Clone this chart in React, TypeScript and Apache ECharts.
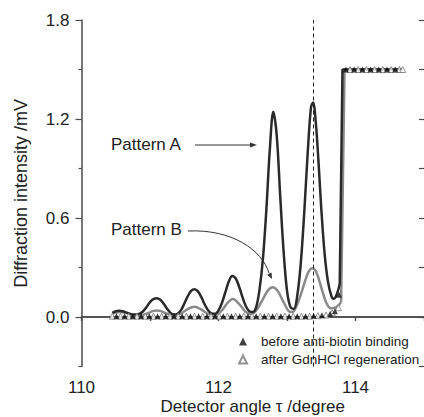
import React, { useEffect, useRef } from 'react';
import * as echarts from 'echarts';

// Pattern A (before anti-biotin binding), smooth oscillating part
const angleA = [
  110.45, 110.50, 110.55, 110.60, 110.65, 110.70, 110.75, 110.80, 110.85, 110.90,
  110.95, 111.00, 111.05, 111.10, 111.15, 111.20, 111.25, 111.30, 111.35, 111.40,
  111.45, 111.50, 111.55, 111.60, 111.65, 111.70, 111.75, 111.80, 111.85, 111.90,
  111.95, 112.00, 112.05, 112.10, 112.15, 112.20, 112.25, 112.30, 112.35, 112.40,
  112.45, 112.50, 112.55, 112.60, 112.65, 112.70, 112.75, 112.80, 112.85, 112.90,
  112.95, 113.00, 113.05, 113.10, 113.15, 113.20, 113.25, 113.30, 113.35, 113.38,
  113.42, 113.46, 113.50, 113.55, 113.60, 113.65, 113.68, 113.72, 113.77,
];
const intensityA = [
  0.025, 0.035, 0.038, 0.035, 0.028, 0.020, 0.015, 0.015, 0.020, 0.035,
  0.060, 0.090, 0.108, 0.113, 0.105, 0.080, 0.050, 0.025, 0.015, 0.020,
  0.040, 0.080, 0.125, 0.158, 0.168, 0.155, 0.120, 0.075, 0.040, 0.022,
  0.020, 0.040, 0.085, 0.150, 0.215, 0.248, 0.235, 0.185, 0.120, 0.065,
  0.035, 0.030, 0.060, 0.170, 0.360, 0.660, 1.020, 1.244, 1.100, 0.740,
  0.400, 0.160, 0.060, 0.050, 0.130, 0.320, 0.620, 0.980, 1.270, 1.300,
  1.180, 0.940, 0.660, 0.380, 0.210, 0.125, 0.110, 0.130, 0.200,
];
// Pattern A step to saturation
const angleAStep = [113.77, 113.81, 114.68];
const intensityAStep = [0.200, 1.500, 1.500];

// Pattern B (after GdnHCl regeneration), smooth oscillating part
const angleB = [
  110.45, 110.55, 110.65, 110.75, 110.85, 110.95, 111.05, 111.10, 111.15, 111.25,
  111.35, 111.45, 111.55, 111.65, 111.75, 111.85, 111.95, 112.05, 112.12, 112.21,
  112.30, 112.40, 112.47, 112.55, 112.65, 112.72, 112.79, 112.86, 112.95, 113.05,
  113.10, 113.18, 113.25, 113.31, 113.37, 113.43, 113.50, 113.57, 113.64, 113.72,
  113.79,
];
const intensityB = [
  0.020, 0.030, 0.025, 0.012, 0.010, 0.020, 0.037, 0.040, 0.037, 0.020,
  0.010, 0.020, 0.048, 0.062, 0.045, 0.018, 0.012, 0.040, 0.080, 0.109,
  0.080, 0.030, 0.018, 0.040, 0.110, 0.160, 0.180, 0.160, 0.090, 0.030,
  0.035, 0.110, 0.200, 0.270, 0.295, 0.270, 0.180, 0.090, 0.053, 0.060,
  0.090,
];
const angleBStep = [113.79, 113.84, 114.68];
const intensityBStep = [0.090, 1.500, 1.500];

// Measured points (triangles)
const angleBefore = [
  110.51, 110.63, 110.75, 110.87, 110.99, 111.11, 111.23, 111.35, 111.47, 111.59,
  111.71, 111.83, 111.95, 112.07, 112.19, 112.31, 112.43, 112.55, 112.67, 112.79,
  112.91, 113.03, 113.15, 113.27, 113.39, 113.51, 113.63, 113.70, 113.76,
  113.86, 113.98, 114.10, 114.22, 114.34, 114.46, 114.58,
];
const valueBefore = [
  0.005, 0.005, 0.005, 0.005, 0.005, 0.005, 0.005, 0.005, 0.005, 0.005,
  0.005, 0.005, 0.005, 0.005, 0.005, 0.005, 0.005, 0.005, 0.005, 0.005,
  0.005, 0.005, 0.005, 0.005, 0.008, 0.010, 0.020, 0.035, 0.135,
  1.500, 1.500, 1.500, 1.500, 1.500, 1.500, 1.500,
];
const angleAfter = [
  110.45, 110.57, 110.69, 110.81, 110.93, 111.05, 111.17, 111.29, 111.41, 111.53,
  111.65, 111.77, 111.89, 112.01, 112.13, 112.25, 112.37, 112.49, 112.61, 112.73,
  112.85, 112.97, 113.09, 113.21, 113.33, 113.45, 113.57, 113.66, 113.75,
  113.92, 114.04, 114.16, 114.28, 114.40, 114.52, 114.64, 114.69,
];
const valueAfter = [
  0.005, 0.005, 0.005, 0.005, 0.005, 0.005, 0.005, 0.005, 0.005, 0.005,
  0.005, 0.005, 0.005, 0.005, 0.005, 0.005, 0.005, 0.005, 0.005, 0.005,
  0.005, 0.005, 0.005, 0.005, 0.005, 0.008, 0.012, 0.025, 0.056,
  1.500, 1.500, 1.500, 1.500, 1.500, 1.500, 1.500, 1.500,
];

const markerAngle = 113.39;
const xLabelTicks = [110, 112, 114];
const yLabelTicks = [0, 0.6, 1.2, 1.8];
const yMinorTicks = [-0.3, 0.3, 0.9, 1.5];

const legendBefore = 'before anti-biotin binding';
const legendAfter = 'after GdnHCl regeneration';

const zip = (xs: number[], ys: number[]) => xs.map((x, i) => [x, ys[i]]);

const FONT = '"Liberation Sans", Arial, Helvetica, sans-serif';
const AXIS_COLOR = '#4a4a4a';
const TEXT_COLOR = '#222';
const DARK = '#2a2a2a';
const GRAY = '#8a8a8a';

export default function App() {
  const ref = useRef<HTMLDivElement>(null);
  useEffect(() => {
    const chart = echarts.init(ref.current!, null, { renderer: 'svg' });
    const xCommon = {
      type: 'value',
      min: 110,
      max: 115,
      interval: 1,
      splitLine: { show: false },
    };
    const yCommon = {
      type: 'value',
      min: -0.3,
      max: 1.8,
      interval: 0.3,
      splitLine: { show: false },
    };
    chart.setOption({
      animation: false,
      backgroundColor: '#ffffff',
      textStyle: { fontFamily: FONT },
      grid: {
        left: 81.5,
        right: 0,
        top: 20,
        bottom: 50.5,
        containLabel: false,
        outerBoundsMode: 'none',
      },
      xAxis: [
        {
          ...xCommon,
          position: 'bottom',
          name: 'Detector angle τ /degree',
          nameLocation: 'middle',
          nameGap: 31,
          nameMoveOverlap: false,
          nameTextStyle: { fontSize: 17, color: TEXT_COLOR, fontFamily: FONT },
          axisLine: { show: true, lineStyle: { color: AXIS_COLOR, width: 1.5 } },
          axisTick: { show: true, inside: false, length: 4, lineStyle: { color: AXIS_COLOR, width: 1.2 } },
          axisLabel: {
            show: true,
            customValues: xLabelTicks,
            margin: 12,
            fontSize: 17,
            lineHeight: 17,
            color: TEXT_COLOR,
            fontFamily: FONT,
          },
        },
        {
          ...xCommon,
          position: 'top',
          axisLine: { show: true, lineStyle: { color: AXIS_COLOR, width: 1.5 } },
          axisTick: { show: true, inside: true, length: 4, lineStyle: { color: AXIS_COLOR, width: 1.2 } },
          axisLabel: { show: false },
        },
      ],
      yAxis: [
        {
          ...yCommon,
          position: 'left',
          name: 'Diffraction intensity /mV',
          nameLocation: 'middle',
          nameGap: 52,
          nameMoveOverlap: false,
          nameTextStyle: { fontSize: 18, color: TEXT_COLOR, fontFamily: FONT },
          axisLine: { show: true, lineStyle: { color: AXIS_COLOR, width: 1.5 } },
          axisTick: {
            show: true,
            inside: false,
            length: 6,
            customValues: yLabelTicks,
            lineStyle: { color: AXIS_COLOR, width: 1.2 },
          },
          axisLabel: {
            show: true,
            customValues: yLabelTicks,
            formatter: (v: number) => v.toFixed(1),
            margin: 12,
            fontSize: 17,
            color: TEXT_COLOR,
            fontFamily: FONT,
          },
        },
        {
          ...yCommon,
          position: 'left',
          axisLine: { show: false },
          axisTick: {
            show: true,
            inside: false,
            length: 3,
            customValues: yMinorTicks,
            lineStyle: { color: AXIS_COLOR, width: 1.2 },
          },
          axisLabel: { show: false },
        },
        {
          ...yCommon,
          position: 'right',
          axisLine: { show: false },
          axisTick: { show: true, inside: true, length: 5, lineStyle: { color: AXIS_COLOR, width: 1.2 } },
          axisLabel: { show: false },
        },
      ],
      legend: {
        show: true,
        orient: 'vertical',
        left: 233,
        top: 329,
        itemWidth: 8,
        itemHeight: 8,
        itemGap: 3,
        icon: 'triangle',
        textStyle: {
          fontSize: 13.5,
          lineHeight: 15,
          color: TEXT_COLOR,
          fontFamily: FONT,
          padding: [0, 0, 0, 9],
        },
        data: [legendBefore, legendAfter],
      },
      series: [
        {
          type: 'line',
          name: 'Pattern B',
          data: zip(angleB, intensityB),
          smooth: 0.35,
          showSymbol: false,
          symbol: 'none',
          lineStyle: { color: GRAY, width: 2.5 },
          z: 2,
        },
        {
          type: 'line',
          name: 'Pattern B step',
          data: zip(angleBStep, intensityBStep),
          smooth: false,
          symbol: 'none',
          lineStyle: { color: GRAY, width: 2.5 },
          z: 2,
        },
        {
          type: 'line',
          name: 'Pattern A',
          data: zip(angleA, intensityA),
          smooth: 0.35,
          showSymbol: false,
          symbol: 'none',
          lineStyle: { color: DARK, width: 2.5 },
          z: 3,
          markLine: {
            silent: true,
            symbol: ['none', 'none'],
            label: { show: false },
            lineStyle: { color: '#222', width: 1, type: [4, 3] },
            data: [{ xAxis: markerAngle }],
          },
        },
        {
          type: 'line',
          name: 'Pattern A step',
          data: zip(angleAStep, intensityAStep),
          smooth: false,
          symbol: 'none',
          lineStyle: { color: DARK, width: 2.5 },
          z: 3,
        },
        {
          type: 'scatter',
          name: legendAfter,
          data: zip(angleAfter, valueAfter),
          symbol: 'triangle',
          symbolSize: 6,
          itemStyle: { color: '#ffffff', borderColor: '#777777', borderWidth: 1 },
          z: 4,
        },
        {
          type: 'scatter',
          name: legendBefore,
          data: zip(angleBefore, valueBefore),
          symbol: 'triangle',
          symbolSize: 6,
          itemStyle: { color: '#111111' },
          z: 5,
        },
      ],
      graphic: [
        {
          type: 'text',
          left: 111,
          top: 136,
          style: { text: 'Pattern A', fontSize: 17, fill: TEXT_COLOR, fontFamily: FONT },
        },
        {
          type: 'line',
          shape: { x1: 195, y1: 145, x2: 251, y2: 145 },
          style: { stroke: '#333', lineWidth: 1 },
        },
        {
          type: 'polygon',
          shape: { points: [[257, 145], [250, 142.5], [250, 147.5]] },
          style: { fill: '#333' },
        },
        {
          type: 'text',
          left: 111,
          top: 221,
          style: { text: 'Pattern B', fontSize: 17, fill: TEXT_COLOR, fontFamily: FONT },
        },
        {
          type: 'bezierCurve',
          shape: { x1: 188, y1: 231, cpx1: 232, cpy1: 229, cpx2: 262, cpy2: 250, x2: 269, y2: 273 },
          style: { stroke: '#333', lineWidth: 1, fill: 'none' },
        },
        {
          type: 'polygon',
          shape: { points: [[272, 279], [267.1, 274.8], [271.5, 272.6]] },
          style: { fill: '#333' },
        },
      ],
    });
    return () => chart.dispose();
  }, []);
  return (
    <div
      ref={ref}
      style={{ position: 'fixed', left: 0, top: 0, width: 424, height: 417, background: '#fff' }}
    />
  );
}
